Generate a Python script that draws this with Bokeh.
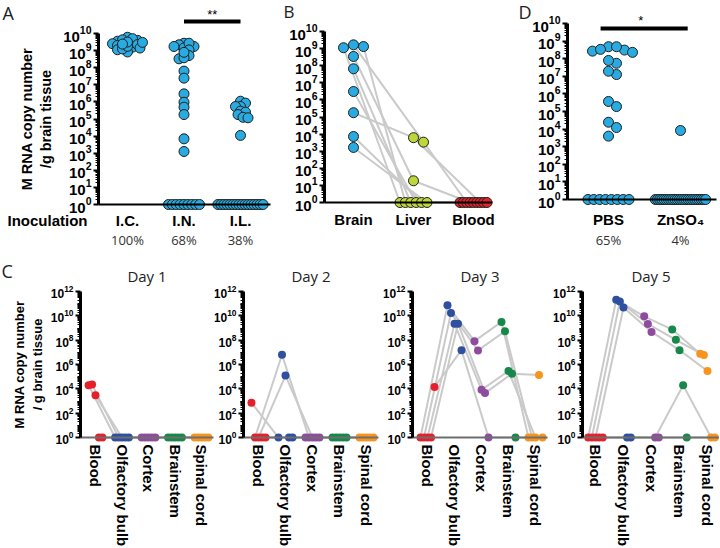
import math
from bokeh.plotting import figure
from bokeh.models import LogAxis, LinearAxis, FixedTicker, Range1d, ColumnDataSource
from bokeh.layouts import column, row
from bokeh.embed import file_html
from bokeh.resources import INLINE
from bokeh.core.properties import value

# ================= DATA: log10(M RNA copies / g); 0 = not detected (drawn at 10^0) =================
A_groups = ["I.C.", "I.N.", "I.L."]
A_percent = ["100%", "68%", "38%"]
A_IC = [9.78, 9.55, 9.63, 9.45, 9.60, 9.70, 9.40, 9.30, 9.20, 9.05, 8.92, 9.10, 9.25, 9.35, 9.50, 9.38, 9.15, 9.48]
A_IN = [9.43, 9.34, 9.24, 9.16, 9.24, 9.43, 9.04, 8.71, 8.52, 8.58, 8.90, 7.80, 7.39, 6.47, 5.98, 5.69,
        5.26, 3.84, 3.10, 0, 0, 0, 0, 0, 0, 0, 0, 0]
A_IL = [6.04, 5.93, 5.73, 5.73, 5.46, 5.40, 5.26, 5.10, 5.07, 4.04,
        0, 0, 0, 0, 0, 0, 0, 0, 0, 0, 0, 0, 0, 0, 0, 0]
A_sig = ["**", 2, 3]

B_tissues = ["Brain", "Liver", "Blood"]
B_brain = [9.05, 9.12, 9.22, 8.54, 7.82, 6.49, 5.25, 3.86, 3.22]
B_liver = [0, 0, 3.53, 1.27, 0, 0, 3.79, 0, 0]
B_blood = [0, 0, 0, 0, 0, 0, 0, 0, 0]

D_groups = ["PBS", "ZnSO\u2084"]
D_percent = ["65%", "4%"]
D_PBS = [8.68, 8.49, 8.36, 8.43, 8.53, 8.68, 7.74, 7.90, 7.10, 7.29, 5.57, 5.28, 4.39, 4.09, 3.60,
         0, 0, 0, 0, 0, 0, 0, 0]
D_ZnSO4 = [3.92, 0, 0, 0, 0, 0, 0, 0, 0, 0, 0, 0, 0, 0, 0, 0, 0, 0, 0, 0, 0, 0, 0, 0, 0]
D_sig = ["*", 1, 2]

C_tissues = ["Blood", "Olfactory bulb", "Cortex", "Brainstem", "Spinal cord"]
C_days = ["Day 1", "Day 2", "Day 3", "Day 5"]
# one row per mouse: Blood, Olfactory bulb, Cortex, Brainstem, Spinal cord
C_day1 = [[4.30, 0, 0, 0, 0], [4.35, 0, 0, 0, 0], [3.48, 0, 0, 0, 0], [0, 0, 0, 0, 0], [0, 0, 0, 0, 0]]
C_day2 = [[2.86, 0, 0, 0, 0], [0, 6.80, 0, 0, 0], [0, 5.09, 0, 0, 0], [0, 0, 0, 0, 0], [0, 0, 0, 0, 0]]
C_day3 = [[0, 10.86, 7.92, 9.50, 0], [0, 10.23, 7.16, 8.73, 0], [0, 9.36, 3.92, 5.47, 0],
          [0, 9.36, 3.65, 5.25, 5.14], [4.16, 7.18, 0, 0, 0]]
C_day5 = [[0, 11.32, 9.96, 8.87, 6.88], [0, 11.18, 9.33, 8.03, 6.78], [0, 10.69, 8.68, 7.18, 5.47],
          [0, 0, 0, 4.30, 0], [0, 0, 0, 0, 0]]
C_data = [C_day1, C_day2, C_day3, C_day5]

# ================= STYLE =================
BLUE = "#29aae1"
EDGE = "#1f1f1f"
GREY = "#cacaca"
LIVER = "#bfd63a"
RED = "#e3242b"
C_COLORS = ["#e5202a", "#2f4f9f", "#8f4c9f", "#17874a", "#f7941d"]
BOLD = "Liberation Sans"
SANS = "Open Sans"


class Frame:
    """Figure whose frame fills the whole canvas; px anchors map to data values."""
    def __init__(self, w, h, x_px, x_val, ppu, y_px, y_log, ppd):
        self.x_px, self.x_val, self.ppu = x_px, x_val, ppu
        self.y_px, self.y_log, self.ppd = y_px, y_log, ppd
        self.p = figure(width=w, height=h,
                        x_range=Range1d(self.X(0), self.X(w)),
                        y_range=Range1d(self.Y(h), self.Y(0)),
                        y_axis_type="log", x_axis_location=None, y_axis_location=None,
                        title_location=None, toolbar_location=None, output_backend="svg",
                        min_border=0, outline_line_color=None)
        for g in self.p.grid:
            g.visible = False

    def X(self, px):
        return self.x_val + (px - self.x_px) / self.ppu

    def Y(self, py):
        return 10 ** (self.y_log - (py - self.y_px) / self.ppd)


def y_axis(fr, x_px, top_exp, step, font_px, label=None, label_px=15, label_standoff=5):
    major = [10.0 ** e for e in range(0, top_exp + 1, step)]
    minor = [k * 10.0 ** e for e in range(0, top_exp) for k in range(2, 10)]
    if step > 1:
        minor += [10.0 ** e for e in range(1, top_exp, step)]
    ax = LogAxis(fixed_location=fr.X(x_px), bounds=(1, 10.0 ** top_exp),
                 ticker=FixedTicker(ticks=major, minor_ticks=minor),
                 axis_line_width=3, axis_line_color="black",
                 major_tick_line_width=2, major_tick_out=5, major_tick_in=0,
                 minor_tick_line_width=1, minor_tick_out=3, minor_tick_in=0,
                 major_label_standoff=2,
                 major_label_text_font=BOLD, major_label_text_font_style="bold",
                 major_label_text_font_size=f"{font_px}px", major_label_text_color="black")
    if label:
        ax.axis_label = label
        ax.axis_label_text_font = BOLD
        ax.axis_label_text_font_style = "bold"
        ax.axis_label_text_font_size = f"{label_px}px"
        ax.axis_label_text_color = "black"
        ax.axis_label_standoff = label_standoff
    fr.p.add_layout(ax, "left")


def x_axis(fr, ticks, labels, x0_px, x1_px, font_px, standoff, line_color="black", line_width=2,
           style="bold", font=BOLD, color="black", orientation="horizontal"):
    ax = LinearAxis(fixed_location=1, bounds=(fr.X(x0_px), fr.X(x1_px)),
                    ticker=FixedTicker(ticks=ticks, minor_ticks=[]),
                    major_label_overrides=dict(zip(ticks, labels)),
                    axis_line_color=line_color, axis_line_width=line_width,
                    major_tick_line_color=None, major_tick_out=0, major_tick_in=0,
                    minor_tick_line_color=None, minor_tick_out=0, minor_tick_in=0,
                    major_label_standoff=standoff, major_label_orientation=orientation,
                    major_label_text_font=font, major_label_text_font_style=style,
                    major_label_text_font_size=f"{font_px}px", major_label_text_color=color)
    fr.p.add_layout(ax, "below")


def txt(p, x, y, s, size, font=SANS, style="normal", align="center", baseline="middle", color="black"):
    p.text(x=[x], y=[y], text=[s], text_font=value(font), text_font_size=value(f"{size}px"),
           text_font_style=style, text_align=align, text_baseline=baseline, text_color=color)


def swarm(vals, center, ppu, ppd, dot, zero_span, min_d=0.9, step=0.5):
    xs = [0.0] * len(vals)
    zi = [i for i, v in enumerate(vals) if v == 0]
    n = len(zi)
    for k, i in enumerate(zi):
        xs[i] = center + ((k - (n - 1) / 2) * zero_span / (n - 1) if n > 1 else 0.0)
    placed = []
    for i in sorted([i for i, v in enumerate(vals) if v != 0], key=lambda i: -vals[i]):
        py = vals[i] * ppd
        j = 0
        while True:
            off = ((j + 1) // 2) * dot * step * (1 if j % 2 else -1)
            if all((off - qx) ** 2 + (py - qy) ** 2 >= (dot * min_d) ** 2 for qx, qy in placed):
                break
            j += 1
        placed.append((off, py))
        xs[i] = center + off / ppu
    return xs


def dots(p, xs, vals, color, size=10, edge=EDGE):
    src = ColumnDataSource(dict(x=xs, y=[10 ** v for v in vals]))
    p.scatter("x", "y", source=src, size=size, fill_color=color, line_color=edge, line_width=1)


# ================= PANEL A =================
fa = Frame(280, 252, 127, 1, 56.5, 33, 10, 17.1)
pa = fa.p
y_axis(fa, 98, 10, 1, 15, label="M RNA copy number\n/g brain tissue", label_px=14.5, label_standoff=6)
x_axis(fa, [1, 2, 3], A_groups, 98, 270, 15, 7)
x_axis(fa, [1, 2, 3], A_percent, 98, 270, 13, 26, line_color=None, style="normal", font=SANS, color="#333333")
for k, grp in enumerate([A_IC, A_IN, A_IL]):
    xs = swarm(grp, k + 1, fa.ppu, fa.ppd, 10, [0.5, 0.55, 0.8][k], min_d=0.42, step=0.25)
    dots(pa, xs, grp, BLUE)
pa.segment(x0=[A_sig[1]], y0=[fa.Y(21)], x1=[A_sig[2]], y1=[fa.Y(21)], line_width=4, line_color="black")
txt(pa, (A_sig[1] + A_sig[2]) / 2, fa.Y(14), A_sig[0], 13, font=BOLD)
txt(pa, fa.X(87), fa.Y(220), "Inoculation", 15, font=BOLD, style="bold", align="right")
txt(pa, fa.X(2), fa.Y(12), "A", 18, align="left", color="#222222")

# ================= PANEL B =================
fb = Frame(220, 252, 73, 1, 60, 31, 10, 17.1)
pb = fb.p
y_axis(fb, 44, 10, 1, 15)
x_axis(fb, [1, 2, 3], B_tissues, 44, 212, 15, 8)
bx = swarm(B_brain, 1, fb.ppu, fb.ppd, 10, 0.4, min_d=0.9, step=0.5)
lx = swarm(B_liver, 2, fb.ppu, fb.ppd, 10, 0.45, min_d=0.9, step=0.5)
dx = swarm(B_blood, 3, fb.ppu, fb.ppd, 10, 0.45)
pb.multi_line(xs=[[bx[i], lx[i], dx[i]] for i in range(len(B_brain))],
              ys=[[10 ** B_brain[i], 10 ** B_liver[i], 10 ** B_blood[i]] for i in range(len(B_brain))],
              line_color=GREY, line_width=2)
dots(pb, bx, B_brain, BLUE)
dots(pb, lx, B_liver, LIVER)
dots(pb, dx, B_blood, RED)
txt(pb, fb.X(3), fb.Y(11), "B", 17, align="left", color="#222222")

# ================= PANEL D =================
fd = Frame(219, 252, 108, 1, 72, 23, 10, 17.6)
pd_ = fd.p
y_axis(fd, 67, 10, 1, 15)
x_axis(fd, [1, 2], D_groups, 67, 216, 15, 11)
x_axis(fd, [1, 2], D_percent, 67, 216, 13, 31, line_color=None, style="normal", font=SANS, color="#333333")
dots(pd_, swarm(D_PBS, 1, fd.ppu, fd.ppd, 10, 0.57, min_d=0.8, step=0.4), D_PBS, BLUE)
dots(pd_, swarm(D_ZnSO4, 2, fd.ppu, fd.ppd, 10, 0.7), D_ZnSO4, BLUE)
pd_.segment(x0=[D_sig[1] - 0.11], y0=[fd.Y(28)], x1=[D_sig[2] + 0.1], y1=[fd.Y(28)],
            line_width=4, line_color="black")
txt(pd_, (D_sig[1] + D_sig[2]) / 2 - 0.05, fd.Y(20), D_sig[0], 13, font=BOLD)
txt(pd_, fd.X(18), fd.Y(11), "D", 18, align="left", color="#222222")

# ================= PANEL C =================
c_specs = [(214, 80, 95, 26.5), (169, 29, 44, 27), (170, 29, 44, 27), (166, 29, 42, 28)]
c_figs = []
for d, (day, mice) in enumerate(zip(C_days, C_data)):
    w, ax_px, b_px, ppu = c_specs[d]
    fc = Frame(w, 295, b_px, 0, ppu, 39, 12, 12.17)
    pc = fc.p
    right_px = b_px + 4 * ppu + 12
    if d == 0:
        y_axis(fc, ax_px, 12, 2, 12, label="M RNA copy number\n/ g brain tissue", label_px=13, label_standoff=3)
    else:
        y_axis(fc, ax_px, 12, 2, 12)
    x_axis(fc, [0, 1, 2, 3, 4], C_tissues, ax_px, right_px, 15, 7, line_color="#6e6e6e", orientation="vertical")
    n = len(mice)
    offs = [(i - (n - 1) / 2) * 0.13 for i in range(n)]
    pc.multi_line(xs=[[t + offs[i] for t in range(5)] for i in range(n)],
                  ys=[[10 ** v for v in m] for m in mice], line_color=GREY, line_width=2)
    for t in range(5):
        src = ColumnDataSource(dict(x=[t + offs[i] for i in range(n)], y=[10 ** mice[i][t] for i in range(n)]))
        pc.scatter("x", "y", source=src, size=8, fill_color=C_COLORS[t], line_color=None)
    txt(pc, (fc.X(ax_px) + fc.X(right_px)) / 2, fc.Y(23), day, 15, color="#222222")
    if d == 0:
        txt(pc, fc.X(1), fc.Y(18), "C", 18, align="left", color="#222222")
    c_figs.append(pc)

layout = column(row(pa, pb, pd_), row(*c_figs))
open("out.html", "w").write(file_html(layout, INLINE))
